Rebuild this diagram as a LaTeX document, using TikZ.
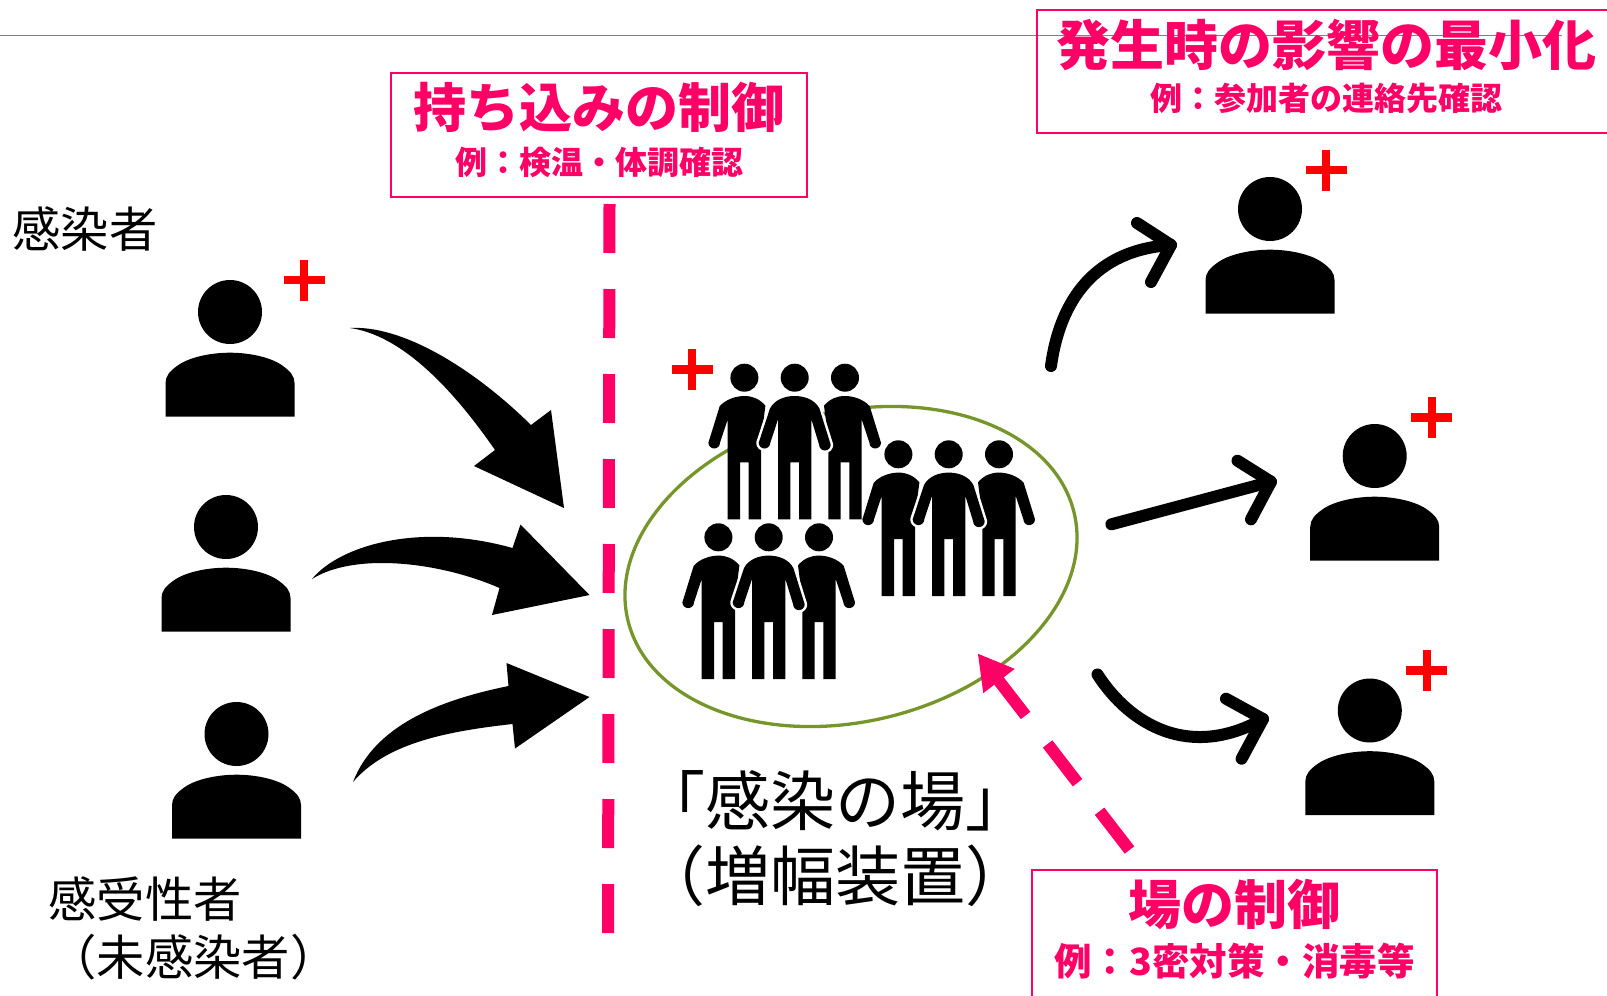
\documentclass[tikz,border=0pt]{standalone}
\usepackage{fontspec}
\setmainfont{Noto Sans CJK JP}
\usetikzlibrary{arrows.meta,shapes.geometric}
\definecolor{ctrlpink}{HTML}{FF0066}
\definecolor{fieldgreen}{HTML}{76962C}
\newcommand{\frontoutline}{(0,18.3) .. controls (-10,18.3) and (-20,22) .. (-24.7,30.7)
    -- (-36,65) arc[start angle=180,end angle=360,x radius=5.8,y radius=-5.8] -- (-16.7,41.7)
    -- (-16.7,141.7) -- (-4.3,141.7) -- (-4.3,84.7) -- (4.3,84.7) -- (4.3,141.7) -- (16.7,141.7)
    -- (16.7,41.7) -- (24.4,67) arc[start angle=180,end angle=360,x radius=5.8,y radius=-5.8]
    -- (24.7,30.7) .. controls (20,22) and (10,18.3) .. (0,18.3) -- cycle}
\tikzset{
    person/.pic={
        \fill (0,0) circle (32);
        \fill (-64.5,104.7) -- (-64.5,71) .. controls (-64.5,64) and (-60,59) .. (-53,54)
            .. controls (-42,45.5) and (-20,40.7) .. (0,40.7)
            .. controls (20,40.7) and (42,45.5) .. (53,54)
            .. controls (60,59) and (64.5,64) .. (64.5,71) -- (64.5,104.7) -- cycle;
    },
    plusmark/.pic={
        \fill[red] (-20.5,-4.3) rectangle (20.5,4.3);
        \fill[red] (-4,-20.5) rectangle (4,20.5);
    },
    sidefigure/.pic={
        \fill (0,0) circle (14);
        \fill (0,18.3) .. controls (-9,18.3) and (-19,22) .. (-24.7,28.5)
            -- (-36,65) arc[start angle=180,end angle=360,x radius=5.8,y radius=-5.8] -- (-16.7,41.7)
            -- (-16.7,141.7) -- (-4.3,141.7) -- (-4.3,84.7) -- (4.3,84.7) -- (4.3,141.7) -- (16.7,141.7)
            -- (16.7,62) -- (21,28) .. controls (15,21) and (8,18.3) .. (0,18.3) -- cycle;
    },
    frontfigure/.pic={
        \fill (0,0) circle (14);
        \draw[white,line width=5pt,line join=round] \frontoutline;
        \fill \frontoutline;
    },
    crowd/.pic={
        \pic at (-50.3,0) {sidefigure};
        \pic[xscale=-1] at (50.3,0) {sidefigure};
        \pic at (0,0) {frontfigure};
    },
    ctrlbox/.style={draw=ctrlpink,line width=2pt,inner sep=0pt},
    ctrltitle/.style={text=ctrlpink,font=\bfseries\fontsize{53}{53}\selectfont,inner sep=0pt},
    ctrlsub/.style={text=ctrlpink,font=\bfseries\fontsize{32}{32}\selectfont,inner sep=0pt},
    smalllabel/.style={font=\fontsize{48.3}{48.3}\selectfont,inner sep=0pt},
    biglabel/.style={font=\fontsize{65}{65}\selectfont,inner sep=0pt},
    dashline/.style={ctrlpink,line width=12pt,dash pattern=on 49pt off 36pt},
    spreadline/.style={line width=12pt,line cap=round,line join=round}
}
\begin{document}
\begin{tikzpicture}[x=1pt,y=-1pt]
    \useasboundingbox (0,0) rectangle (1607,996);
    \draw[gray,line width=1.2pt] (0,35.7) -- (1562,35.7);

    % field
    \node[ellipse,draw=fieldgreen,line width=3.3pt,rotate=13.6,minimum width=459pt,minimum height=310pt,inner sep=0pt] (field) at (851,566.5) {};

    % persons
    \foreach \x/\y [count=\i] in {230/312,226/527,236.5/734,1270/209,1374.7/456,1369.8/710.5} {
            \pic (person\i) at (\x,\y) {person};
        }
    \foreach \x/\y in {304/280,692/369.5,1326/170,1431.5/417.5,1426.5/670.5} {
            \pic at (\x,\y) {plusmark};
        }
    \foreach \x/\y in {794.7/377.7,948.7/454.3,768.7/537.3} {
            \pic at (\x,\y) {crowd};
        }

    % boxes
    \draw[ctrlbox] (390.7,73) rectangle (807,196.7);
    \draw[ctrlbox] (1037,10) rectangle (1620,133);
    \draw[ctrlbox] (1032,870) rectangle (1436.7,1010);
    \node[ctrltitle] (carrytitle) at (598.5,107.5) {持ち込みの制御};
    \node[ctrlsub] (carrysub) at (599,162.5) {例：検温・体調確認};
    \node[ctrltitle,font=\bfseries\fontsize{54}{54}\selectfont] (impacttitle) at (1326.5,45) {発生時の影響の最小化};
    \node[ctrlsub] (impactsub) at (1326,98) {例：参加者の連絡先確認};
    \node[ctrltitle] (fieldtitle) at (1234,904) {場の制御};
    \node[ctrlsub,font=\bfseries\fontsize{37.5}{37.5}\selectfont] (fieldsub) at (1234.5,961) {例：3密対策・消毒等};

    % labels
    \node[smalllabel] (infected) at (85,228.5) {感染者};
    \node[smalllabel] (suscept) at (145,898.5) {感受性者};
    \node[smalllabel] (uninfected) at (193.5,957) {（未感染者）};
    \node[biglabel] (fieldname) at (835,801) {「感染の場」};
    \node[biglabel] (amplifier) at (835,876) {（増幅装置）};

    % entry arrows
    \fill (350,328) .. controls (400,325) and (470,365) .. (531,425) -- (551,410) -- (564,508) -- (474,466) -- (495,450) .. controls (450,385) and (400,335) .. (350,328) -- cycle;
    \fill (312,579) .. controls (340,545) and (420,522) .. (512.5,548) -- (520.5,524.5) -- (589.5,595) -- (492,615) -- (499.5,588) .. controls (440,562) and (355,552) .. (312,579) -- cycle;
    \fill (353,782) .. controls (375,725) and (440,700) .. (508.5,686) -- (506.5,663) -- (589.5,697) -- (515,748.5) -- (512.5,724) .. controls (440,732) and (385,745) .. (353,782) -- cycle;

    % control lines
    \coordinate (gatetop) at (609.5,204);
    \coordinate (gatebottom) at (608,933);
    \draw[dashline] (gatetop) -- (gatebottom);
    \coordinate (fieldfoot) at (1129.5,850);
    \coordinate (fieldhit) at (977.6,653.3);
    \draw[dashline,-{Triangle[length=35pt,width=37pt]}] (fieldfoot) -- (fieldhit);

    % spread arrows
    \coordinate (tipa) at (1171,245);
    \draw[spreadline] (1051,366) .. controls (1060,300) and (1095,250) .. (tipa);
    \draw[spreadline] (1137,223) -- (tipa) -- (1151,282);
    \coordinate (tipb) at (1271,481.7);
    \draw[spreadline] (1111.4,524.3) -- (tipb);
    \draw[spreadline] (1237.5,460.7) -- (tipb) -- (1251,519.3);
    \coordinate (tipc) at (1263,719);
    \draw[spreadline] (1097.5,674.5) .. controls (1130,725) and (1190,760) .. (tipc);
    \draw[spreadline] (1226,698.7) -- (tipc) -- (1241.6,758.7);
\end{tikzpicture}
\end{document}
